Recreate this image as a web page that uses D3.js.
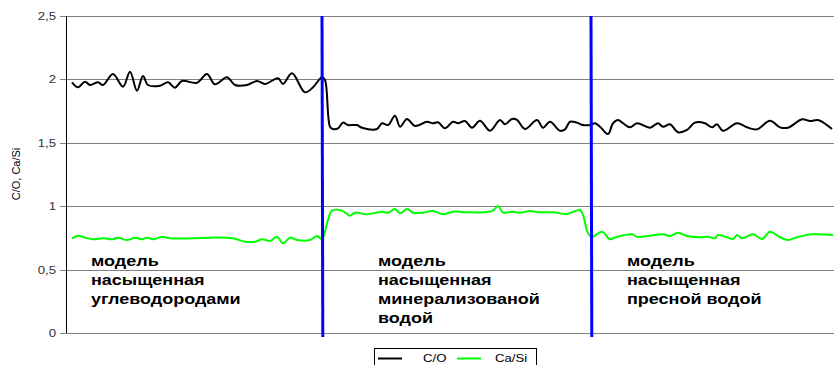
<!DOCTYPE html>
<html><head><meta charset="utf-8">
<script src="https://cdn.jsdelivr.net/npm/d3@7"></script>
<style>html,body{margin:0;padding:0;background:#fff;overflow:hidden}</style>
</head><body><svg id="chart" width="834" height="365"></svg>
<script>
// ---- data ----
const coSamples = [6,12,19,24,32,37,47,57,64,71,77,82,94,102,109,116,131,141,149,161,169,181,191,199,212,217,226,239,247,256,259,264,267,272,277,282,291,296,311,316,322,329,334,341,349,361,367,372,379,387,392,399,406,414,424,434,439,446,451,459,471,477,484,494,499,504,511,517,524,529,534,542,547,552,557,564,571,584,592,597,604,612,621,629,639,646,651,657,671,681,691,704,714,722,736,744,752,761,766];
const coValues = [1.977,1.938,1.982,1.956,1.977,1.956,2.043,1.942,2.061,1.911,2.027,1.956,1.950,1.977,1.935,1.987,1.974,2.043,1.961,2.017,1.956,1.956,1.987,1.964,2.009,1.964,2.048,1.898,1.938,2.017,1.995,1.627,1.609,1.614,1.659,1.640,1.640,1.619,1.609,1.654,1.640,1.714,1.627,1.688,1.632,1.666,1.654,1.662,1.614,1.666,1.654,1.672,1.619,1.674,1.595,1.680,1.646,1.688,1.680,1.609,1.680,1.619,1.666,1.595,1.606,1.666,1.659,1.640,1.640,1.654,1.627,1.569,1.654,1.680,1.654,1.622,1.654,1.619,1.654,1.627,1.646,1.583,1.601,1.659,1.654,1.622,1.646,1.595,1.654,1.622,1.606,1.674,1.622,1.619,1.685,1.672,1.680,1.640,1.609];
const caSamples = [6,12,19,27,37,46,52,61,69,76,81,87,96,104,127,144,167,179,189,196,204,211,217,224,231,244,251,256,261,266,276,284,289,301,316,322,329,334,341,347,357,367,377,387,401,417,427,432,437,446,454,464,474,487,501,514,517,522,526,536,544,551,566,571,584,597,604,612,621,634,642,649,652,661,667,671,676,687,696,704,714,722,731,746,767];
const caValues = [0.747,0.767,0.752,0.739,0.747,0.739,0.752,0.733,0.752,0.739,0.752,0.739,0.759,0.747,0.747,0.752,0.747,0.720,0.720,0.739,0.726,0.759,0.707,0.752,0.733,0.733,0.765,0.739,0.865,0.965,0.965,0.925,0.949,0.936,0.957,0.949,0.978,0.944,0.978,0.949,0.949,0.962,0.936,0.957,0.952,0.952,0.965,1.002,0.949,0.957,0.949,0.962,0.952,0.952,0.939,0.970,0.931,0.786,0.759,0.799,0.739,0.759,0.778,0.759,0.767,0.778,0.765,0.791,0.765,0.755,0.759,0.747,0.773,0.755,0.741,0.773,0.747,0.778,0.741,0.799,0.755,0.733,0.755,0.778,0.773];
const yTicks = [0, 0.5, 1, 1.5, 2, 2.5];
const yTickLabels = ["0", "0,5", "1", "1,5", "2", "2,5"];
const boundaries = [256, 525];
const seriesNames = ["C/O", "Ca/Si"];
const seriesColors = ["#000000", "#00ff00"];
const zoneLabels = [
  ["модель", "насыщенная", "углеводородами"],
  ["модель", "насыщенная", "минерализованой", "водой"],
  ["модель", "насыщенная", "пресной водой"]
];
const zoneStarts = [25, 312, 561];
const yTitle = "C/O, Ca/Si";

// ---- layout ----
const svg = d3.select("#chart");
const L = 66, R = 834, T = 16, B = 333;
const x = d3.scaleLinear().domain([0, 768]).range([L, R]);
const y = d3.scaleLinear().domain([0, 2.5]).range([B, T]);
const font = "Arial, 'Liberation Sans', sans-serif";
const SX = 1.2;

// gridlines
svg.append("g").selectAll("line").data(yTicks).join("line")
  .attr("x1", L - 6).attr("x2", R)
  .attr("y1", d => Math.round(y(d)) + 0.5).attr("y2", d => Math.round(y(d)) + 0.5)
  .attr("stroke", "#808080").attr("stroke-width", 1);
// y axis line
svg.append("line").attr("x1", L + 0.5).attr("x2", L + 0.5)
  .attr("y1", y(2.5)).attr("y2", y(0)).attr("stroke", "#000").attr("stroke-width", 1);
// tick labels
svg.append("g").selectAll("text").data(yTicks).join("text")
  .attr("transform", d => `translate(${L - 10},${y(d) + 4}) scale(${SX},1)`)
  .attr("text-anchor", "end").attr("font-family", font).attr("font-size", 11)
  .attr("fill", "#333").text((d, i) => yTickLabels[i]);
// y title
svg.append("text").attr("transform", "translate(20,174) rotate(-90)")
  .attr("text-anchor", "middle").attr("font-family", font).attr("font-size", 11)
  .attr("fill", "#000").text(yTitle);

const line = d3.line().curve(d3.curveCatmullRom.alpha(0.5));
const coData = coSamples.map((s, i) => [x(s), y(coValues[i])]);
const caData = caSamples.map((s, i) => [x(s), y(caValues[i])]);
svg.append("path").attr("d", line(caData)).attr("fill", "none")
  .attr("stroke", seriesColors[1]).attr("stroke-width", 2);
svg.append("path").attr("d", line(coData)).attr("fill", "none")
  .attr("stroke", seriesColors[0]).attr("stroke-width", 2);

// boundaries
svg.append("g").selectAll("line").data(boundaries).join("line")
  .attr("x1", d => x(d)).attr("x2", d => x(d) + 0.8)
  .attr("y1", y(2.5)).attr("y2", y(0) + 4)
  .attr("stroke", "#0000ff").attr("stroke-width", 3);

// zone labels
zoneLabels.forEach((lines, zi) => {
  lines.forEach((t, li) => {
    svg.append("text")
      .attr("transform", `translate(${x(zoneStarts[zi])},${265.5 + li * 19.2}) scale(${SX},1)`)
      .attr("font-family", font).attr("font-size", 15).attr("font-weight", "bold")
      .attr("fill", "#000").text(t);
  });
});

// legend
const lg = svg.append("g");
lg.append("rect").attr("x", 374.5).attr("y", 348.5).attr("width", 162).attr("height", 30)
  .attr("fill", "#fff").attr("stroke", "#000").attr("stroke-width", 1);
const legX = [378, 457], legT = [423, 495];
seriesNames.forEach((n, i) => {
  lg.append("line").attr("x1", legX[i]).attr("x2", legX[i] + 24)
    .attr("y1", 358.5).attr("y2", 358.5).attr("stroke", seriesColors[i]).attr("stroke-width", 2);
  lg.append("text").attr("transform", `translate(${legT[i]},362) scale(${SX},1)`)
    .attr("font-family", font).attr("font-size", 11).attr("fill", "#000").text(n);
});
</script></body></html>
